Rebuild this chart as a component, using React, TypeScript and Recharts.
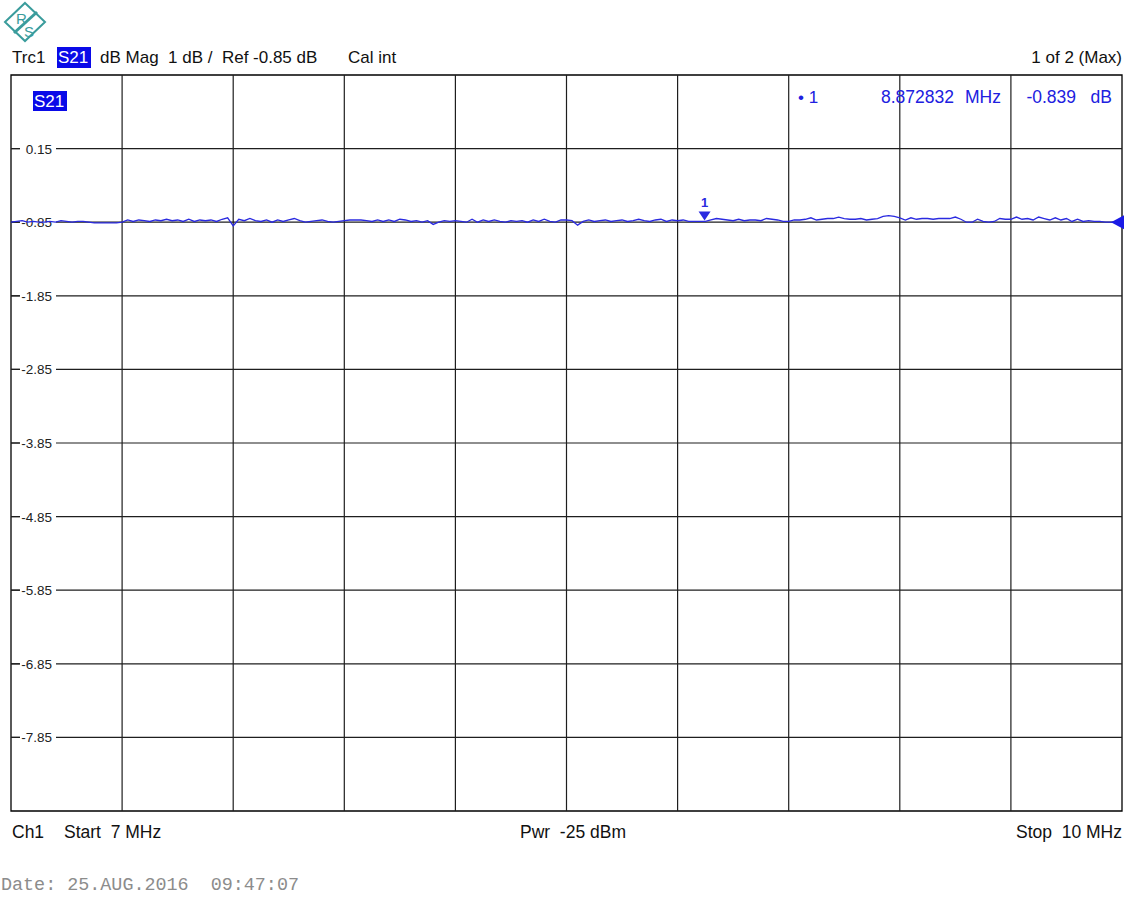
import React from "react";
import {
  LineChart,
  Line,
  XAxis,
  YAxis,
  ReferenceLine,
  ReferenceArea,
  ReferenceDot,
} from "recharts";

// Sweep: 7 MHz to 10 MHz, 201 points
const START_MHZ = 7;
const STOP_MHZ = 10;

// S21 magnitude in dB
const s21Db: number[] = [
  -0.85, -0.84, -0.83, -0.85, -0.84, -0.85, -0.85, -0.84, -0.85, -0.83,
  -0.84, -0.85, -0.84, -0.84, -0.85, -0.86, -0.86, -0.86, -0.86, -0.86,
  -0.85, -0.82, -0.84, -0.82, -0.83, -0.84, -0.82, -0.83, -0.81, -0.83,
  -0.82, -0.84, -0.81, -0.84, -0.82, -0.83, -0.82, -0.84, -0.81, -0.79,
  -0.9, -0.81, -0.83, -0.8, -0.83, -0.84, -0.82, -0.85, -0.82, -0.84,
  -0.82, -0.8, -0.83, -0.85, -0.84, -0.83, -0.82, -0.84, -0.85, -0.84,
  -0.83, -0.82, -0.82, -0.82, -0.83, -0.84, -0.82, -0.84, -0.82, -0.84,
  -0.81, -0.82, -0.84, -0.83, -0.85, -0.83, -0.88, -0.85, -0.83, -0.84,
  -0.83, -0.84, -0.85, -0.81, -0.85, -0.82, -0.84, -0.82, -0.84, -0.85,
  -0.83, -0.84, -0.83, -0.85, -0.82, -0.84, -0.81, -0.84, -0.85, -0.82,
  -0.82, -0.83, -0.89, -0.84, -0.82, -0.84, -0.83, -0.82, -0.84, -0.83,
  -0.82, -0.84, -0.83, -0.81, -0.83, -0.84, -0.82, -0.81, -0.84, -0.82,
  -0.83, -0.82, -0.84, -0.84, -0.84, -0.84, -0.82, -0.8, -0.81, -0.82,
  -0.83, -0.81, -0.83, -0.82, -0.82, -0.83, -0.8, -0.81, -0.82, -0.84,
  -0.84, -0.82, -0.82, -0.81, -0.79, -0.82, -0.81, -0.8, -0.8, -0.78,
  -0.8, -0.81, -0.81, -0.8, -0.82, -0.81, -0.8, -0.77, -0.76, -0.77,
  -0.79, -0.82, -0.79, -0.81, -0.8, -0.8, -0.81, -0.8, -0.8, -0.8,
  -0.78, -0.81, -0.85, -0.85, -0.81, -0.84, -0.85, -0.84, -0.8, -0.81,
  -0.81, -0.78, -0.81, -0.8, -0.82, -0.78, -0.8, -0.82, -0.79, -0.82,
  -0.8, -0.84, -0.81, -0.84, -0.83, -0.84, -0.84, -0.85, -0.85, -0.85,
  -0.85,
];

const yTicks = [0.15, -0.85, -1.85, -2.85, -3.85, -4.85, -5.85, -6.85, -7.85];
const yTickLabels = ["0.15", "-0.85", "-1.85", "-2.85", "-3.85", "-4.85", "-5.85", "-6.85", "-7.85"];
const xGrid = [7.3, 7.6, 7.9, 8.2, 8.5, 8.8, 9.1, 9.4, 9.7];
const Y_TOP = 1.15;
const Y_BOTTOM = -8.85;
const REF_LEVEL = -0.85;

const markerFreq = 8.872832;
const markerValue = -0.839;

const data = s21Db.map((v, i) => ({
  f: START_MHZ + ((STOP_MHZ - START_MHZ) * i) / (s21Db.length - 1),
  v,
}));

const FONT = "'Liberation Sans', Arial, sans-serif";
const TRACE = "#2a2ae0";
const GRID = "#1e1e1e";

const YLabel = (props: any) => {
  const { viewBox, text } = props;
  const x = viewBox.x;
  const y = viewBox.y;
  return (
    <g>
      <rect x={x + 9} y={y - 8} width={36} height={16} fill="#fff" />
      <text x={x + 41} y={y + 5} textAnchor="end" fontFamily={FONT} fontSize={13.5} fill="#222">
        {text}
      </text>
    </g>
  );
};

const MarkerShape = (props: any) => {
  const { cx, cy } = props;
  return (
    <g>
      <polygon points={`${cx - 6},${cy - 10} ${cx + 6},${cy - 10} ${cx},${cy - 1}`} fill={TRACE} />
      <text x={cx} y={cy - 14} textAnchor="middle" fontFamily={FONT} fontSize={13} fontWeight="bold" fill={TRACE}>
        1
      </text>
    </g>
  );
};

const RefArrow = (props: any) => {
  const { cx, cy } = props;
  return <polygon points={`${cx - 11},${cy} ${cx + 2},${cy - 7} ${cx + 2},${cy + 7}`} fill="#1a1ae6" />;
};

export default function App() {
  return (
    <div style={{ position: "absolute", left: 0, top: 0, width: 1134, height: 916, background: "#fff" }}>
      <LineChart
        width={1134}
        height={916}
        data={data}
        margin={{ top: 75, right: 12, bottom: 105, left: 11 }}
      >
        <XAxis dataKey="f" type="number" domain={[START_MHZ, STOP_MHZ]} allowDataOverflow hide />
        <YAxis type="number" domain={[Y_BOTTOM, Y_TOP]} allowDataOverflow hide />
        <ReferenceArea
          x1={START_MHZ}
          x2={STOP_MHZ}
          y1={Y_BOTTOM}
          y2={Y_TOP}
          fill="#fff"
          fillOpacity={0}
          stroke="#000"
          strokeWidth={1.3}
        />
        {xGrid.map((x) => (
          <ReferenceLine key={"x" + x} x={x} stroke={GRID} strokeWidth={1.2} />
        ))}
        {yTicks.map((y, i) => (
          <ReferenceLine
            key={"y" + y}
            y={y}
            stroke={GRID}
            strokeWidth={1.2}
            label={<YLabel text={yTickLabels[i]} />}
          />
        ))}
        {yTicks.map((y) => (
          <ReferenceLine
            key={"t" + y}
            segment={[
              { x: START_MHZ, y },
              { x: START_MHZ + 0.024, y },
            ]}
            stroke={GRID}
            strokeWidth={1.2}
          />
        ))}
        <Line
          dataKey="v"
          type="linear"
          stroke={TRACE}
          strokeWidth={1.3}
          dot={false}
          isAnimationActive={false}
        />
        <ReferenceDot x={markerFreq} y={markerValue} shape={MarkerShape} ifOverflow="visible" />
        <ReferenceDot x={STOP_MHZ} y={REF_LEVEL} shape={RefArrow} ifOverflow="visible" />
      </LineChart>
      <svg
        width={1134}
        height={916}
        style={{ position: "absolute", left: 0, top: 0, pointerEvents: "none" }}
      >
        {/* logo */}
        <g>
          <polygon points="25,3 45,22 25,41 5,22" fill="none" stroke="#3a9c9c" strokeWidth={2} />
          <line x1="14" y1="33" x2="37" y2="12" stroke="#3a9c9c" strokeWidth={3} />
          <text x={16} y={24} fontFamily={FONT} fontSize={15} fill="#3a9c9c">R</text>
          <text x={24} y={37} fontFamily={FONT} fontSize={15} fill="#3a9c9c">S</text>
        </g>
        {/* header */}
        <text x={12} y={63} fontFamily={FONT} fontSize={17} fill="#111">Trc1</text>
        <rect x={57} y={47} width={34} height={21} fill="#0a0ae8" />
        <text x={58} y={63} fontFamily={FONT} fontSize={17} fill="#fff">S21</text>
        <text x={100} y={63} fontFamily={FONT} fontSize={17} fill="#111" style={{ whiteSpace: "pre" }}>
          {"dB Mag  1 dB /  Ref -0.85 dB"}
        </text>
        <text x={348} y={63} fontFamily={FONT} fontSize={17} fill="#111">Cal int</text>
        <text x={1122} y={63} textAnchor="end" fontFamily={FONT} fontSize={17} fill="#111">1 of 2 (Max)</text>
        {/* in-plot trace label */}
        <rect x={33} y={91} width={34} height={20} fill="#0a0ae8" />
        <text x={34} y={107} fontFamily={FONT} fontSize={17} fill="#fff">S21</text>
        {/* marker info */}
        <text x={798} y={103} fontFamily={FONT} fontSize={17} fill="#2020e0">• 1</text>
        <text x={954} y={103} textAnchor="end" fontFamily={FONT} fontSize={17.5} fill="#2020e0">8.872832</text>
        <text x={1001} y={103} textAnchor="end" fontFamily={FONT} fontSize={17.5} fill="#2020e0">MHz</text>
        <text x={1076} y={103} textAnchor="end" fontFamily={FONT} fontSize={17.5} fill="#2020e0">-0.839</text>
        <text x={1112} y={103} textAnchor="end" fontFamily={FONT} fontSize={17.5} fill="#2020e0">dB</text>
        {/* footer */}
        <text x={12} y={838} fontFamily={FONT} fontSize={17.5} fill="#111">Ch1</text>
        <text x={64} y={838} fontFamily={FONT} fontSize={17.5} fill="#111" style={{ whiteSpace: "pre" }}>
          {"Start  7 MHz"}
        </text>
        <text x={520} y={838} fontFamily={FONT} fontSize={17.5} fill="#111" style={{ whiteSpace: "pre" }}>
          {"Pwr  -25 dBm"}
        </text>
        <text x={1122} y={838} textAnchor="end" fontFamily={FONT} fontSize={17.5} fill="#111" style={{ whiteSpace: "pre" }}>
          {"Stop  10 MHz"}
        </text>
        <text x={1} y={890} fontFamily="'Liberation Mono', 'DejaVu Sans Mono', monospace" fontSize={18.4} fill="#8c8c8c" style={{ whiteSpace: "pre" }}>
          {"Date: 25.AUG.2016  09:47:07"}
        </text>
      </svg>
    </div>
  );
}
